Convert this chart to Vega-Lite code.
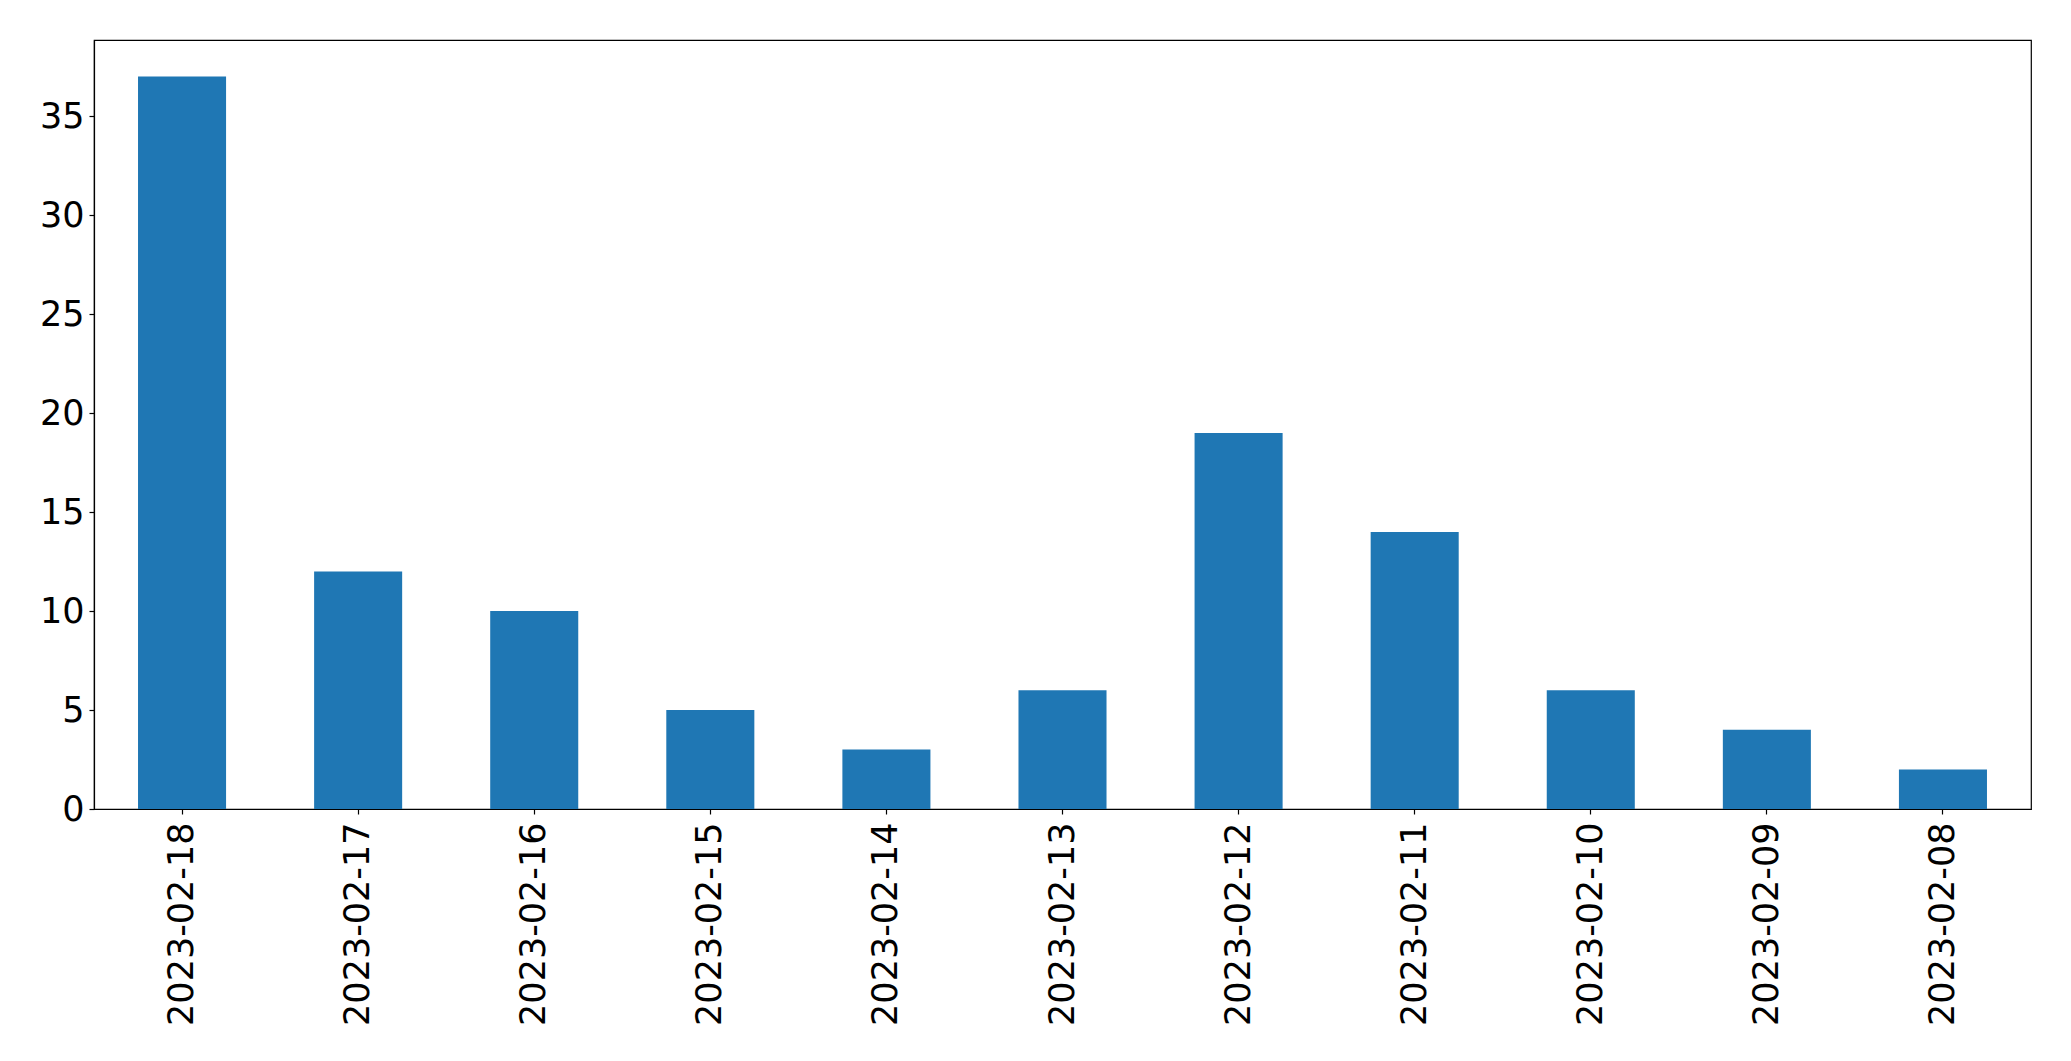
{
  "$schema": "https://vega.github.io/schema/vega-lite/v6.json",
  "width": 1937,
  "height": 769,
  "autosize": {"type": "none"},
  "padding": {"left": 94, "top": 40, "right": 40, "bottom": 252},
  "background": "white",
  "view": {"stroke": "black", "strokeWidth": 1.2},
  "config": {
    "font": "DejaVu Sans",
    "axis": {
      "grid": false,
      "domainColor": "black",
      "domainWidth": 1.2,
      "tickColor": "black",
      "tickWidth": 1.2,
      "tickSize": 5,
      "labelColor": "black",
      "labelFont": "DejaVu Sans",
      "labelFontSize": 35,
      "labelLimit": 0,
      "title": null
    }
  },
  "data": {
    "values": [
      {"date": "2023-02-18", "count": 37},
      {"date": "2023-02-17", "count": 12},
      {"date": "2023-02-16", "count": 10},
      {"date": "2023-02-15", "count": 5},
      {"date": "2023-02-14", "count": 3},
      {"date": "2023-02-13", "count": 6},
      {"date": "2023-02-12", "count": 19},
      {"date": "2023-02-11", "count": 14},
      {"date": "2023-02-10", "count": 6},
      {"date": "2023-02-09", "count": 4},
      {"date": "2023-02-08", "count": 2}
    ]
  },
  "mark": {"type": "bar", "color": "#1f77b4"},
  "encoding": {
    "x": {
      "field": "date",
      "type": "nominal",
      "sort": null,
      "scale": {"paddingInner": 0.5, "paddingOuter": 0.25},
      "axis": {"labelAngle": -90, "labelPadding": 8, "labelBaseline": "middle", "labelAlign": "right"}
    },
    "y": {
      "field": "count",
      "type": "quantitative",
      "scale": {"domain": [0, 38.85], "nice": false, "zero": true},
      "axis": {"values": [0, 5, 10, 15, 20, 25, 30, 35], "labelPadding": 5}
    }
  }
}
